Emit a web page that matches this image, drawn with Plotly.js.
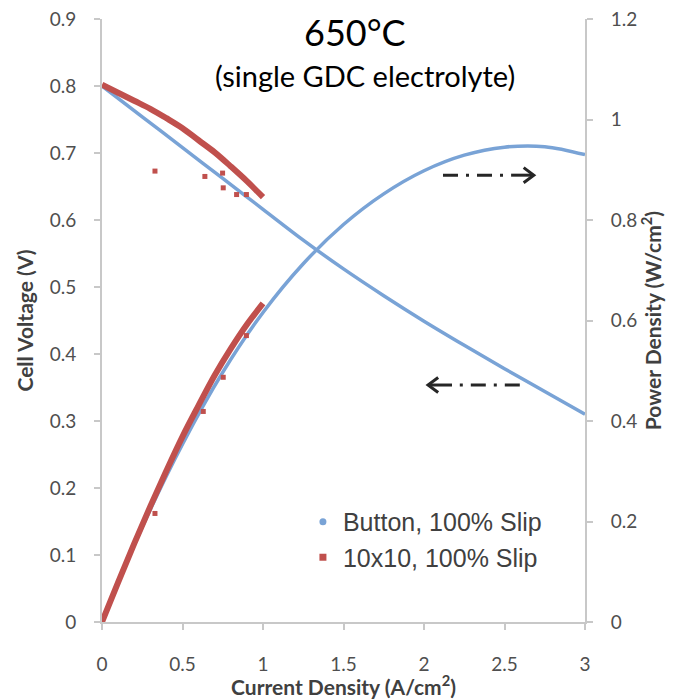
<!DOCTYPE html>
<html>
<head>
<meta charset="utf-8">
<script src="https://cdn.plot.ly/plotly-3.0.1.min.js"></script>
<style>html,body{margin:0;padding:0;background:#fff;}#chart{width:679px;height:699px;}</style>
</head>
<body>
<div id="chart"></div>
<script>
// Button cell, 100% slip
const buttonCurrent = [0, 0.25, 0.5, 0.75, 1.0, 1.25, 1.5, 1.75, 2.0, 2.25, 2.5, 2.75, 3.0];
const buttonVoltage = [0.800, 0.754, 0.708, 0.662, 0.616, 0.570, 0.527, 0.487, 0.449, 0.413, 0.378, 0.344, 0.310];
const buttonPower   = [0, 0.189, 0.354, 0.497, 0.616, 0.713, 0.791, 0.852, 0.898, 0.929, 0.945, 0.946, 0.930];

// 10x10 cell, 100% slip
const cellCurrent = [0, 0.1, 0.2, 0.3, 0.4, 0.5, 0.6, 0.7, 0.8, 0.9, 1.0];
const cellVoltage = [0.802, 0.790, 0.778, 0.766, 0.752, 0.737, 0.719, 0.701, 0.680, 0.658, 0.634];
const cellPower   = [0, 0.079, 0.156, 0.230, 0.301, 0.369, 0.431, 0.491, 0.544, 0.592, 0.634];

// scattered 10x10 readings
const cellOutCurrentV = [0.329, 0.639, 0.749, 0.753, 0.836, 0.897];
const cellOutVoltage  = [0.673, 0.665, 0.670, 0.648, 0.638, 0.638];
const cellOutCurrentP = [0.329, 0.629, 0.753, 0.897];
const cellOutPower    = [0.216, 0.419, 0.487, 0.570];

const seriesNames = ['Button, 100% Slip', '10x10, 100% Slip'];
const xTicks = [0, 0.5, 1, 1.5, 2, 2.5, 3];

const BLUE = '#79a3d6';
const RED = '#c0504d';
const ARROW = '#262626';
const tickFont = {family: 'Lato, "Open Sans", sans-serif', size: 19, color: '#4f4f4f'};
const titleFont = {family: 'Lato, "Open Sans", sans-serif', size: 21, color: '#404040', weight: 'bold'};

const traces = [
  {x: buttonCurrent, y: buttonVoltage, mode: 'lines', line: {color: BLUE, width: 3.5, shape: 'spline'}, showlegend: false, hoverinfo: 'skip'},
  {x: buttonCurrent, y: buttonPower, yaxis: 'y2', mode: 'lines', line: {color: BLUE, width: 3.5, shape: 'spline'}, showlegend: false, hoverinfo: 'skip'},
  {x: cellCurrent, y: cellVoltage, mode: 'lines', line: {color: RED, width: 6, shape: 'spline'}, showlegend: false, hoverinfo: 'skip'},
  {x: cellCurrent, y: cellPower, yaxis: 'y2', mode: 'lines', line: {color: RED, width: 6, shape: 'spline'}, showlegend: false, hoverinfo: 'skip'},
  {x: cellOutCurrentV, y: cellOutVoltage, mode: 'markers', marker: {color: RED, size: 5, symbol: 'square'}, showlegend: false},
  {x: cellOutCurrentP, y: cellOutPower, yaxis: 'y2', mode: 'markers', marker: {color: RED, size: 5, symbol: 'square'}, showlegend: false},
  {x: [null], y: [null], mode: 'markers', name: seriesNames[0], legendgroup: 'a', marker: {color: BLUE, size: 7, symbol: 'circle'}},
  {x: [null], y: [null], mode: 'markers', name: seriesNames[1], legendgroup: 'b', marker: {color: RED, size: 7, symbol: 'square'}}
];

const axisLine = {showline: true, linecolor: '#c8c8c8', linewidth: 2, ticks: 'outside', ticklen: 6, tickwidth: 2, tickcolor: '#c8c8c8', showgrid: false, zeroline: false, tickfont: tickFont};

// arrow shapes (paper coordinates): dash-dot shaft, solid end shaft, chevron head
const dashPattern = '15px,8px,3px,8px';
const shapes = [
  {type: 'line', xref: 'paper', yref: 'paper', x0: 0.706, x1: 0.834, y0: 0.741, y1: 0.741, line: {color: ARROW, width: 3, dash: dashPattern}},
  {type: 'line', xref: 'paper', yref: 'paper', x0: 0.847, x1: 0.892, y0: 0.741, y1: 0.741, line: {color: ARROW, width: 3}},
  {type: 'path', xref: 'paper', yref: 'paper', path: 'M 0.873 0.7535 L 0.894 0.741 L 0.873 0.7285', line: {color: ARROW, width: 3}},
  {type: 'line', xref: 'paper', yref: 'paper', x0: 0.865, x1: 0.739, y0: 0.393, y1: 0.393, line: {color: ARROW, width: 3, dash: dashPattern}},
  {type: 'line', xref: 'paper', yref: 'paper', x0: 0.7246, x1: 0.677, y0: 0.393, y1: 0.393, line: {color: ARROW, width: 3}},
  {type: 'path', xref: 'paper', yref: 'paper', path: 'M 0.696 0.4055 L 0.675 0.393 L 0.696 0.3805', line: {color: ARROW, width: 3}}
];

const layout = {
  width: 679, height: 699,
  margin: {l: 102, r: 94, t: 19, b: 77},
  paper_bgcolor: '#fff', plot_bgcolor: '#fff',
  showlegend: true,
  legend: {x: 0.416, y: 0.204, xanchor: 'left', yanchor: 'top', bgcolor: 'rgba(0,0,0,0)', font: {family: '"Liberation Sans", Arial, sans-serif', size: 25, color: '#404040'}, traceorder: 'grouped', tracegroupgap: 0, itemwidth: 30},
  xaxis: Object.assign({}, axisLine, {range: [0, 3], tickvals: xTicks, ticklabelstandoff: 18, title: {text: 'Current Density (A/cm<sup>2</sup>)', font: titleFont, standoff: 8}}),
  yaxis: Object.assign({}, axisLine, {range: [0, 0.9], dtick: 0.1, tick0: 0, ticklabelstandoff: 14, title: {text: 'Cell Voltage (V)', font: titleFont, standoff: 10}}),
  yaxis2: Object.assign({}, axisLine, {range: [0, 1.2], dtick: 0.2, tick0: 0, overlaying: 'y', side: 'right', ticklabelstandoff: 14, title: {text: 'Power Density (W/cm<sup>2</sup>)', font: titleFont, standoff: 10}}),
  shapes: shapes,
  annotations: [
    {xref: 'paper', yref: 'paper', x: 0.524, y: 0.979, xanchor: 'center', yanchor: 'middle', showarrow: false, text: '650°C', font: {family: 'Lato, "Open Sans", sans-serif', size: 36, color: '#000'}},
    {xref: 'paper', yref: 'paper', x: 0.545, y: 0.906, xanchor: 'center', yanchor: 'middle', showarrow: false, text: '(single GDC electrolyte)', font: {family: 'Lato, "Open Sans", sans-serif', size: 29, color: '#000'}}
  ]
};

Plotly.newPlot('chart', traces, layout, {displayModeBar: false, staticPlot: true});
</script>
</body>
</html>
